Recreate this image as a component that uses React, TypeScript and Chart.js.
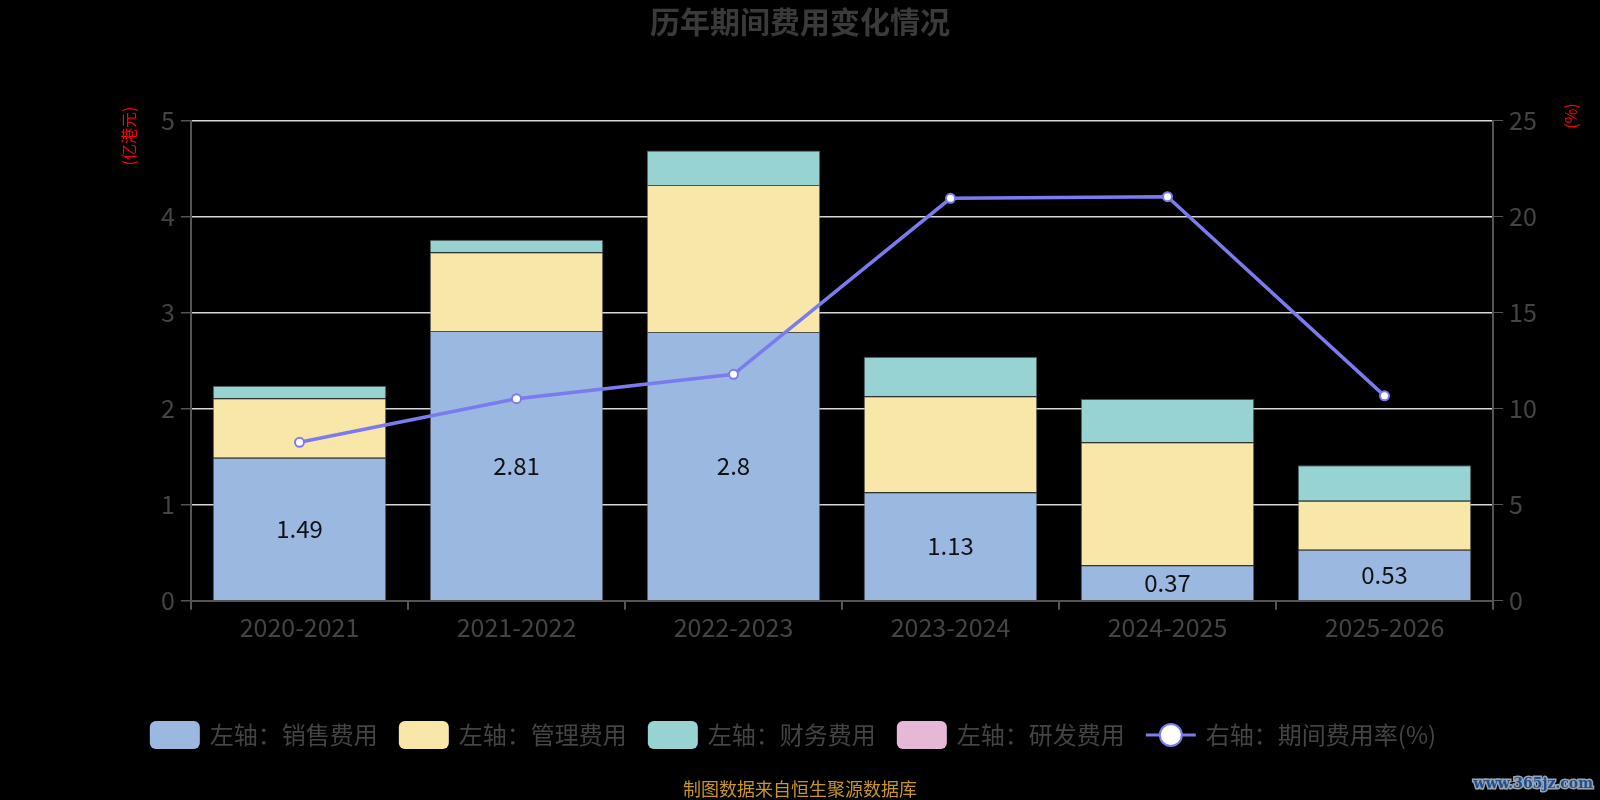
import React, { useRef, useEffect } from 'react';
import { Chart, registerables } from 'chart.js';

Chart.register(...registerables);

// 数据
const categories = ['2020-2021', '2021-2022', '2022-2023', '2023-2024', '2024-2025', '2025-2026'];
const salesExpense = [1.49, 2.81, 2.8, 1.13, 0.37, 0.53];
const adminExpense = [0.62, 0.82, 1.53, 1.0, 1.28, 0.51];
const financeExpense = [0.13, 0.13, 0.36, 0.41, 0.45, 0.37];
const rdExpense: (number | null)[] = [null, null, null, null, null, null];
const expenseRate = [8.25, 10.52, 11.79, 20.96, 21.04, 10.67];

const seriesNames = ['左轴：销售费用', '左轴：管理费用', '左轴：财务费用', '左轴：研发费用', '右轴：期间费用率(%)'];
const seriesColors = ['#9bb8e1', '#f8e7a8', '#97d3d3', '#e6b8d8', '#7b7bf0'];

const FONT = '"Noto Sans CJK SC", "Noto Sans", sans-serif';

// 叠加绘制：标题、轴标题、图例、数据标签、脚注
const overlayPlugin = {
  id: 'overlay',
  afterDatasetsDraw(chart: any) {
    const ctx = chart.ctx;
    const meta = chart.getDatasetMeta(1);
    ctx.save();
    ctx.font = `24px ${FONT}`;
    ctx.fillStyle = '#111';
    ctx.textAlign = 'center';
    ctx.textBaseline = 'middle';
    meta.data.forEach((bar: any, i: number) => {
      const v = salesExpense[i];
      ctx.fillText(String(v), bar.x, (bar.y + bar.base) / 2);
    });
    ctx.restore();
  },
  afterDraw(chart: any) {
    const ctx = chart.ctx;
    ctx.save();

    // 标题
    ctx.font = `bold 30px ${FONT}`;
    ctx.fillStyle = '#3a3a3a';
    ctx.textAlign = 'center';
    ctx.textBaseline = 'middle';
    ctx.fillText('历年期间费用变化情况', 800, 22);

    // 轴标题
    ctx.font = `16px ${FONT}`;
    ctx.fillStyle = '#ff0000';
    ctx.save();
    ctx.translate(129, 136);
    ctx.rotate(-Math.PI / 2);
    ctx.fillText('(亿港元)', 0, 0);
    ctx.restore();
    ctx.save();
    ctx.translate(1571, 116);
    ctx.rotate(-Math.PI / 2);
    ctx.fillText('(%)', 0, 0);
    ctx.restore();

    // 图例
    ctx.font = `24px ${FONT}`;
    ctx.textAlign = 'left';
    const boxW = 50;
    const boxH = 28;
    const gap = 10;
    const spacing = 21;
    const widths = seriesNames.map((n) => boxW + gap + ctx.measureText(n).width);
    const total = widths.reduce((a, b) => a + b, 0) + spacing * (widths.length - 1);
    let x = 793 - total / 2;
    const ly = 735;
    seriesNames.forEach((name, i) => {
      if (i < 4) {
        ctx.fillStyle = seriesColors[i];
        ctx.beginPath();
        ctx.roundRect(x, ly - boxH / 2, boxW, boxH, 6);
        ctx.fill();
      } else {
        ctx.strokeStyle = seriesColors[i];
        ctx.lineWidth = 3;
        ctx.beginPath();
        ctx.moveTo(x, ly);
        ctx.lineTo(x + boxW, ly);
        ctx.stroke();
        ctx.beginPath();
        ctx.arc(x + boxW / 2, ly, 11, 0, Math.PI * 2);
        ctx.fillStyle = '#fff';
        ctx.fill();
        ctx.lineWidth = 2;
        ctx.stroke();
      }
      ctx.fillStyle = '#444';
      ctx.fillText(name, x + boxW + gap, ly);
      x += widths[i] + spacing;
    });

    // 脚注
    ctx.font = `18px ${FONT}`;
    ctx.fillStyle = '#c9962a';
    ctx.textAlign = 'center';
    ctx.fillText('制图数据来自恒生聚源数据库', 800, 789);

    // 水印
    ctx.font = 'bold 14px "DejaVu Serif", serif';
    ctx.textAlign = 'right';
    ctx.lineWidth = 3;
    ctx.strokeStyle = '#9aa4b0';
    ctx.strokeText('www.365jz.com', 1593, 784);
    ctx.fillStyle = '#1d4f91';
    ctx.fillText('www.365jz.com', 1593, 784);

    ctx.restore();
  },
};

const App: React.FC = () => {
  const chartRef = useRef<HTMLCanvasElement>(null);
  const chartInstance = useRef<Chart | null>(null);

  useEffect(() => {
    if (!chartRef.current) return;
    if (chartInstance.current) chartInstance.current.destroy();

    const tickFont = { size: 25, family: FONT };
    const barBase = {
      type: 'bar' as const,
      stack: 'fee',
      yAxisID: 'y',
      borderColor: 'rgba(110,110,110,0.7)',
      borderWidth: 1,
      categoryPercentage: 0.8,
      barPercentage: 1,
      order: 1,
    };

    chartInstance.current = new Chart(chartRef.current, {
      type: 'bar',
      data: {
        labels: categories,
        datasets: [
          {
            type: 'line',
            label: seriesNames[4],
            data: expenseRate,
            yAxisID: 'y1',
            borderColor: seriesColors[4],
            borderWidth: 3.5,
            pointRadius: 4.5,
            pointBackgroundColor: '#fff',
            pointBorderColor: seriesColors[4],
            pointBorderWidth: 2,
            tension: 0,
            order: 0,
          },
          { ...barBase, label: seriesNames[0], data: salesExpense, backgroundColor: seriesColors[0] },
          { ...barBase, label: seriesNames[1], data: adminExpense, backgroundColor: seriesColors[1] },
          { ...barBase, label: seriesNames[2], data: financeExpense, backgroundColor: seriesColors[2] },
          { ...barBase, label: seriesNames[3], data: rdExpense, backgroundColor: seriesColors[3] },
        ] as any,
      },
      options: {
        animation: false,
        responsive: true,
        maintainAspectRatio: false,
        layout: { padding: { top: 120.7, left: 0, right: 0, bottom: 0 } },
        plugins: {
          legend: { display: false },
          title: { display: false },
          tooltip: { enabled: false },
        },
        scales: {
          x: {
            stacked: true,
            offset: true,
            grid: { offset: true, drawOnChartArea: false, tickColor: '#555', tickLength: 9, lineWidth: 2 },
            border: { color: '#555', width: 2 },
            ticks: { color: '#444', font: tickFont, padding: 3 },
            afterFit: (s: any) => {
              s.height = 800 - 600.7;
            },
          },
          y: {
            stacked: true,
            position: 'left',
            min: 0,
            max: 5,
            ticks: { stepSize: 1, color: '#444', font: tickFont, padding: 6 },
            grid: {
              color: (c: any) => (c.tick && c.tick.value === 0 ? 'rgba(0,0,0,0)' : '#d8d8d8'),
              lineWidth: 1.5,
              tickColor: '#555',
              tickLength: 10,
            },
            border: { color: '#555', width: 2 },
            afterFit: (s: any) => {
              s.width = 191;
            },
          },
          y1: {
            position: 'right',
            min: 0,
            max: 25,
            ticks: { stepSize: 5, color: '#444', font: tickFont, padding: 6 },
            grid: { drawOnChartArea: false, tickColor: '#555', tickLength: 10 },
            border: { color: '#555', width: 2 },
            afterFit: (s: any) => {
              s.width = 107;
            },
          },
        },
      } as any,
      plugins: [overlayPlugin],
    });

    return () => {
      if (chartInstance.current) {
        chartInstance.current.destroy();
        chartInstance.current = null;
      }
    };
  }, []);

  return (
    <div style={{ position: 'fixed', left: 0, top: 0, width: 1600, height: 800, background: '#000' }}>
      <canvas ref={chartRef}></canvas>
    </div>
  );
};

export default App;
